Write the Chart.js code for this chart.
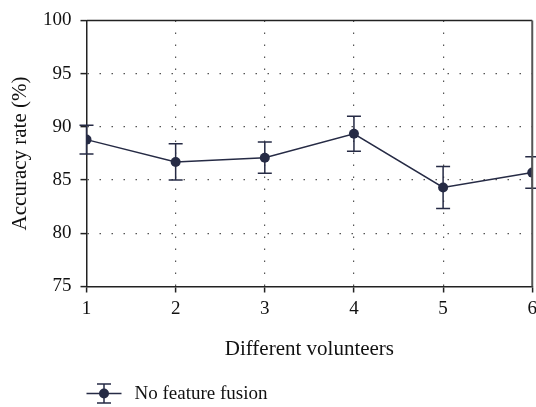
<!DOCTYPE html>
<html>
<head>
<meta charset="utf-8">
<script src="https://cdn.jsdelivr.net/npm/chart.js@4/dist/chart.umd.min.js"></script>
<style>
  html, body { margin: 0; padding: 0; background: #fff; overflow: hidden; }
  #wrap { width: 542px; height: 407px; position: relative; }
</style>
</head>
<body>
<div id="wrap"><canvas id="chart"></canvas></div>
<script>
// values
const volunteers = ['1', '2', '3', '4', '5', '6'];
const accuracy = [88.8, 86.7, 87.1, 89.35, 84.3, 85.7];
const errors = [1.35, 1.7, 1.47, 1.64, 1.97, 1.48];
const yTicks = [75, 80, 85, 90, 95, 100];
const seriesName = 'No feature fusion';

const navy = '#262b45';
const serif = "'Liberation Serif', 'DejaVu Serif', serif";

const points = volunteers.map((v, i) => ({ x: i + 1, y: accuracy[i] }));

function drawErrorSymbol(ctx, x, lo, hi, cap) {
  ctx.beginPath();
  ctx.moveTo(x, lo); ctx.lineTo(x, hi);
  ctx.moveTo(x - cap / 2, lo); ctx.lineTo(x + cap / 2, lo);
  ctx.moveTo(x - cap / 2, hi); ctx.lineTo(x + cap / 2, hi);
  ctx.stroke();
}

const errorBars = {
  id: 'errorBars',
  afterDatasetsDraw(chart) {
    const ctx = chart.ctx;
    const xs = chart.scales.x, ys = chart.scales.y;
    ctx.save();
    ctx.strokeStyle = navy;
    ctx.lineWidth = 1.5;
    for (let i = 0; i < accuracy.length; i++) {
      const px = xs.getPixelForValue(i + 1);
      drawErrorSymbol(ctx, px, ys.getPixelForValue(accuracy[i] - errors[i]),
        ys.getPixelForValue(accuracy[i] + errors[i]), 14);
    }
    ctx.restore();
  }
};

const frameAndLegend = {
  id: 'frameAndLegend',
  afterDraw(chart) {
    const ctx = chart.ctx;
    const a = chart.chartArea;
    ctx.save();
    // top and right of the frame
    ctx.strokeStyle = '#222';
    ctx.lineWidth = 1.5;
    ctx.beginPath();
    ctx.moveTo(a.left, a.top); ctx.lineTo(a.right, a.top);
    ctx.stroke();
    ctx.strokeStyle = '#555';
    ctx.lineWidth = 2;
    ctx.beginPath();
    ctx.moveTo(a.right, a.top); ctx.lineTo(a.right, a.bottom);
    ctx.stroke();

    // legend
    const ly = chart.height - 13.5;
    const lx = a.left;
    ctx.strokeStyle = navy;
    ctx.lineWidth = 1.5;
    ctx.beginPath();
    ctx.moveTo(lx, ly); ctx.lineTo(lx + 35, ly);
    ctx.stroke();
    drawErrorSymbol(ctx, lx + 17.5, ly + 9.5, ly - 9.5, 14);
    ctx.fillStyle = navy;
    ctx.beginPath();
    ctx.arc(lx + 17.5, ly, 5, 0, Math.PI * 2);
    ctx.fill();
    ctx.fillStyle = '#111';
    ctx.font = '19px ' + serif;
    ctx.textBaseline = 'middle';
    ctx.fillText(chart.data.datasets[0].label, lx + 48, ly + 1);
    ctx.restore();
  }
};

new Chart(document.getElementById('chart'), {
  type: 'line',
  data: {
    datasets: [{
      label: seriesName,
      data: points,
      borderColor: navy,
      backgroundColor: navy,
      borderWidth: 1.5,
      pointRadius: 5,
      pointBackgroundColor: navy,
      pointBorderWidth: 0,
      tension: 0
    }]
  },
  options: {
    responsive: true,
    maintainAspectRatio: false,
    animation: false,
    layout: { padding: { top: 20, bottom: 40.5, left: 0, right: 0 } },
    plugins: { legend: { display: false }, tooltip: { enabled: false } },
    scales: {
      x: {
        type: 'linear',
        min: 1, max: 6,
        afterFit(scale) { scale.height = 80; },
        afterBuildTicks(scale) { scale.ticks = volunteers.map((v, i) => ({ value: i + 1 })); },
        ticks: {
          color: '#111',
          font: { family: serif, size: 19 },
          padding: 5,
          maxRotation: 0,
          callback: (v) => volunteers[v - 1]
        },
        grid: {
          color: (c) => (c.tick && (c.tick.value === 1 || c.tick.value === 6)) ? 'rgba(0,0,0,0)' : '#555',
          lineWidth: 1.2,
          tickLength: 6,
          tickColor: '#222',
          tickWidth: 1.5
        },
        border: { display: true, color: '#222', width: 1.5, dash: [1.5, 10.5] },
        title: {
          display: true,
          text: 'Different volunteers',
          color: '#111',
          font: { family: serif, size: 21 },
          padding: { top: 0, bottom: 4 }
        }
      },
      y: {
        min: 75, max: 100,
        afterFit(scale) { scale.width = 86.5; },
        afterBuildTicks(scale) { scale.ticks = yTicks.map(v => ({ value: v })); },
        ticks: {
          color: '#111',
          font: { family: serif, size: 19 },
          padding: 9
        },
        grid: {
          color: (c) => (c.tick && (c.tick.value === 75 || c.tick.value === 100)) ? 'rgba(0,0,0,0)' : '#555',
          lineWidth: 1.2,
          tickLength: 6,
          tickColor: '#222',
          tickWidth: 1.5
        },
        border: { display: true, color: '#222', width: 1.5, dash: [1.5, 10.5] },
        title: {
          display: true,
          text: 'Accuracy rate (%)',
          color: '#111',
          font: { family: serif, size: 21 },
          padding: { top: 8, bottom: 0 }
        }
      }
    }
  },
  plugins: [errorBars, frameAndLegend]
});
</script>
</body>
</html>
